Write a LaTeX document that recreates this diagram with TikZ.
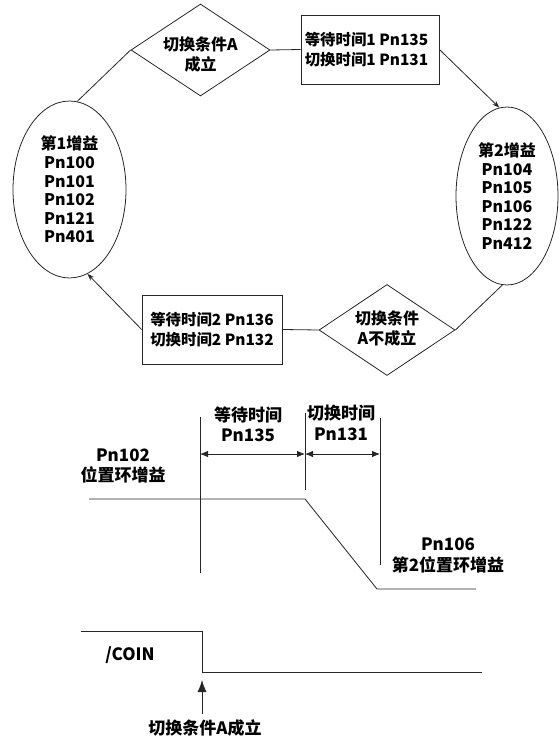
\documentclass[tikz,border=0pt]{standalone}
\usepackage{fontspec}
\newfontfamily\cjk{Noto Sans CJK SC}
\usetikzlibrary{shapes.geometric,arrows.meta}
\begin{document}
\begin{tikzpicture}[x=1pt,y=-1pt,
  ln/.style={draw=black!85,line width=0.8pt},
  topfont/.style={font={\cjk\bfseries\fontsize{16}{19.5}\selectfont}},
  boxfont/.style={font={\cjk\bfseries\fontsize{15.4}{19.5}\selectfont}},
  lowfont/.style={font={\cjk\bfseries\fontsize{17}{20.5}\selectfont}},
  cond/.style={diamond,ln,inner sep=0pt,topfont},
  waitbox/.style={rectangle,ln,inner sep=0pt,align=center,boxfont},
  gainell/.style={ellipse,ln,inner sep=0pt,align=center,font={\cjk\bfseries\fontsize{16}{18.6}\selectfont}},
  lbl/.style={align=center,inner sep=0pt,lowfont},
  smallarr/.style={-{Stealth[length=7pt,width=5pt]}},
  dimarr/.style={{Latex[length=8pt,width=6.5pt]}-{Latex[length=8pt,width=6.5pt]}},
  bigarr/.style={-{Latex[length=12pt,width=9pt]}}
]
\useasboundingbox (0,0) rectangle (559,743);

% ---- state diagram ----
\node[cond,minimum width=139pt,minimum height=92pt,
      label={[topfont,align=center,yshift=-4.5pt]center:切换条件A\\成立}] (d1) at (200.5,50) {};
\node[waitbox,minimum width=138pt,minimum height=69pt] (b1) at (370,49.5)
      {\hspace*{-7pt}等待时间1 Pn135\\\hspace*{-7pt}切换时间1 Pn131};
\node[gainell,minimum width=113pt,minimum height=177pt] (e1) at (69.5,189.5)
      {第1增益\\Pn100\\Pn101\\Pn102\\Pn121\\Pn401};
\node[gainell,minimum width=102pt,minimum height=178pt] (e2) at (507,196)
      {第2增益\\Pn104\\Pn105\\Pn106\\Pn122\\Pn412};
\node[cond,minimum width=136pt,minimum height=91pt,
      label={[topfont,align=center,yshift=1.5pt]center:切换条件\\A不成立}] (d2) at (387,330) {};
\node[waitbox,minimum width=140pt,minimum height=69pt] (b2) at (212,329.5)
      {等待时间2 Pn136\\切换时间2 Pn132};

\draw[ln] (e1.85) -- (d1.west);
\draw[ln] (d1.east) -- (b1.west);
\draw[ln,smallarr] (b1.east) -- (e2.95);
\draw[ln] (e2.267) -- (d2.east);
\draw[ln] (d2.west) -- (b2.east);
\draw[ln,smallarr] (b2.west) -- (e1.282);

% ---- timing diagram ----
\coordinate (v1t) at (200,417); \coordinate (v1b) at (200,573);
\coordinate (v2t) at (305,413); \coordinate (v2b) at (305,490);
\coordinate (v3t) at (380,418); \coordinate (v3b) at (380,565);
\draw[ln] (v1t) -- (v1b);
\draw[ln] (v2t) -- (v2b);
\draw[ln] (v3t) -- (v3b);
\coordinate (a1) at (200,454); \coordinate (a2) at (305,454); \coordinate (a3) at (380,454);
\draw[ln,dimarr] (a1) -- (a2);
\draw[ln,dimarr] (a2) -- (a3);

\node[lbl] (twait) at (248,424.5) {等待时间\\Pn135};
\node[lbl] (tswitch) at (341,423) {切换时间\\Pn131};
\node[lbl] (tg1) at (123,466) {Pn102\\位置环增益};
\node[lbl] (tg2) at (448,555.5) {Pn106\\第2位置环增益};

\coordinate (g1) at (89,499); \coordinate (g2) at (305,499);
\coordinate (g3) at (377,589); \coordinate (g4) at (476,589);
\draw[ln] (g1) -- (g2) -- (g3) -- (g4);

\coordinate (c1) at (81,631); \coordinate (c2) at (202,631);
\coordinate (c3) at (202,672); \coordinate (c4) at (482,672);
\draw[ln] (c1) -- (c2) -- (c3) -- (c4);
\node[lbl] (tcoin) at (130,655) {/COIN};

\node[lbl] (tcond) at (205,728) {切换条件A成立};
\coordinate (up1) at (202,714); \coordinate (up2) at (202,680);
\draw[ln,bigarr] (up1) -- (up2);
\end{tikzpicture}
\end{document}
